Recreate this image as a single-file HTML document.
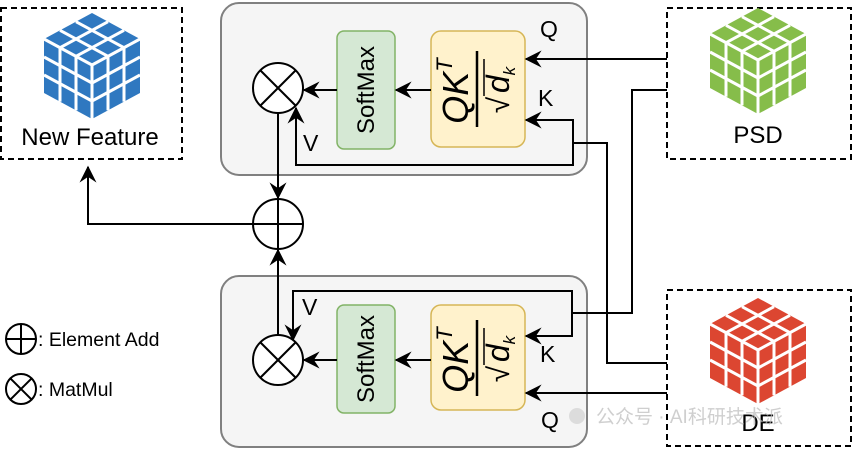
<!DOCTYPE html>
<html><head><meta charset="utf-8"><style>
html,body{margin:0;padding:0;background:#fff;}
svg{display:block;}
text{font-family:"Liberation Sans","Noto Sans CJK SC",sans-serif;}
</style></head><body>
<svg width="855" height="451" viewBox="0 0 855 451" xmlns="http://www.w3.org/2000/svg">
<defs>
<marker id="ar" viewBox="0 0 12 12" refX="11" refY="6" markerWidth="17" markerHeight="17" markerUnits="userSpaceOnUse" orient="auto">
<path d="M0,0 L12,6 L0,12 L4,6 Z" fill="#000"/>
</marker>
<g id="cube">
<polygon points="0,0 48,26 0,52 -48,26"/>
<polygon points="-48,26 0,52 0,106 -48,80" />
<polygon points="0,52 48,26 48,80 0,106"/>
<g stroke="#fff" stroke-width="3" fill="none">
<line x1="-16" y1="8.7" x2="32" y2="34.7"/><line x1="-32" y1="17.3" x2="16" y2="43.3"/>
<line x1="16" y1="8.7" x2="-32" y2="34.7"/><line x1="32" y1="17.3" x2="-16" y2="43.3"/>
<line x1="-48" y1="44" x2="0" y2="70"/><line x1="-48" y1="62" x2="0" y2="88"/>
<line x1="-32" y1="34.7" x2="-32" y2="88.7"/><line x1="-16" y1="43.3" x2="-16" y2="97.3"/>
<line x1="48" y1="44" x2="0" y2="70"/><line x1="48" y1="62" x2="0" y2="88"/>
<line x1="32" y1="34.7" x2="32" y2="88.7"/><line x1="16" y1="43.3" x2="16" y2="97.3"/>
<line x1="0" y1="52" x2="0" y2="106"/>
<line x1="-48" y1="26" x2="0" y2="52"/><line x1="48" y1="26" x2="0" y2="52"/>
</g>
</g>
</defs>

<rect x="1" y="8" width="181" height="151" fill="none" stroke="#000" stroke-width="2" stroke-dasharray="6,4"/>
<rect x="667" y="8" width="184" height="151" fill="none" stroke="#000" stroke-width="2" stroke-dasharray="6,4"/>
<rect x="667" y="290" width="184" height="156" fill="none" stroke="#000" stroke-width="2" stroke-dasharray="6,4"/>

<use href="#cube" transform="translate(92,13)" fill="#2f78c0"/>
<use href="#cube" transform="translate(758,8)" fill="#86bd4a"/>
<use href="#cube" transform="translate(758,298)" fill="#dc4631"/>
<text x="90" y="145" font-size="24" text-anchor="middle">New Feature</text>
<text x="758" y="143" font-size="24" text-anchor="middle">PSD</text>
<text x="758" y="431" font-size="24" text-anchor="middle">DE</text>

<rect x="221" y="3" width="366" height="172" rx="18" fill="#f5f5f5" stroke="#808080" stroke-width="2"/>
<rect x="221" y="276" width="366" height="171" rx="18" fill="#f5f5f5" stroke="#808080" stroke-width="2"/>

<rect x="337" y="31" width="58" height="118" rx="7" fill="#d5e8d4" stroke="#82b366" stroke-width="1.5"/>
<rect x="431" y="31" width="94" height="116" rx="10" fill="#fff2cc" stroke="#d6b656" stroke-width="1.5"/>
<rect x="337" y="305" width="58" height="108" rx="7" fill="#d5e8d4" stroke="#82b366" stroke-width="1.5"/>
<rect x="431" y="305" width="94" height="105" rx="10" fill="#fff2cc" stroke="#d6b656" stroke-width="1.5"/>
<text transform="translate(374,90) rotate(-90)" font-size="24" text-anchor="middle">SoftMax</text>
<text transform="translate(374,359) rotate(-90)" font-size="24" text-anchor="middle">SoftMax</text>

<g transform="translate(477,89) rotate(-90)" font-family="Liberation Serif,serif" font-style="italic">
<line x1="-38" y1="0" x2="38" y2="0" stroke="#000" stroke-width="2.5"/>
<text x="-2" y="-9" font-size="36" text-anchor="middle">QK<tspan font-size="22" dy="-16">T</tspan></text>
<text x="-16" y="32" font-size="30" text-anchor="middle" font-style="normal">√</text>
<text x="9" y="32" font-size="32" text-anchor="middle">d<tspan font-size="17" dy="6">k</tspan></text>
<line x1="-7" y1="7" x2="30" y2="7" stroke="#000" stroke-width="1.5"/>
</g>
<g transform="translate(477,358) rotate(-90)" font-family="Liberation Serif,serif" font-style="italic">
<line x1="-38" y1="0" x2="38" y2="0" stroke="#000" stroke-width="2.5"/>
<text x="-2" y="-9" font-size="36" text-anchor="middle">QK<tspan font-size="22" dy="-16">T</tspan></text>
<text x="-16" y="32" font-size="30" text-anchor="middle" font-style="normal">√</text>
<text x="9" y="32" font-size="32" text-anchor="middle">d<tspan font-size="17" dy="6">k</tspan></text>
<line x1="-7" y1="7" x2="30" y2="7" stroke="#000" stroke-width="1.5"/>
</g>

<g stroke="#000" stroke-width="2" fill="#fff">
<circle cx="278" cy="88" r="25"/>
<circle cx="278" cy="224" r="25"/>
<circle cx="278" cy="360" r="25"/>
<circle cx="21" cy="339" r="15"/>
<circle cx="21" cy="389" r="15"/>
</g>
<g stroke="#000" stroke-width="2" fill="none">
<line x1="260" y1="70" x2="296" y2="106"/><line x1="296" y1="70" x2="260" y2="106"/>
<line x1="260" y1="342" x2="296" y2="378"/><line x1="296" y1="342" x2="260" y2="378"/>
<line x1="253" y1="224" x2="303" y2="224"/><line x1="278" y1="199" x2="278" y2="249"/>
<line x1="6" y1="339" x2="36" y2="339"/><line x1="21" y1="324" x2="21" y2="354"/>
<line x1="10.4" y1="378.4" x2="31.6" y2="399.6"/><line x1="31.6" y1="378.4" x2="10.4" y2="399.6"/>

<line x1="278" y1="113" x2="278" y2="198" marker-end="url(#ar)"/>
<line x1="278" y1="335" x2="278" y2="250" marker-end="url(#ar)"/>
<polyline points="253,224 88,224 88,167" marker-end="url(#ar)"/>
<line x1="337" y1="90" x2="304" y2="90" marker-end="url(#ar)"/>
<line x1="431" y1="90" x2="396" y2="90" marker-end="url(#ar)"/>
<line x1="337" y1="360" x2="304" y2="360" marker-end="url(#ar)"/>
<line x1="431" y1="360" x2="396" y2="360" marker-end="url(#ar)"/>
<line x1="667" y1="59" x2="526" y2="59" marker-end="url(#ar)"/>
<polyline points="667,363 607,363 607,143 573,143"/>
<polyline points="573,143 573,165 296,165 296,108" marker-end="url(#ar)"/>
<polyline points="573,143 573,120 526,120" marker-end="url(#ar)"/>
<polyline points="667,90 632,90 632,313 572,313"/>
<polyline points="572,313 572,291 293,291 293,340" marker-end="url(#ar)"/>
<polyline points="572,313 572,336 526,336" marker-end="url(#ar)"/>
<line x1="667" y1="393" x2="526" y2="393" marker-end="url(#ar)"/>
</g>

<text x="540" y="37" font-size="23">Q</text>
<text x="538" y="106" font-size="23">K</text>
<text x="303" y="151" font-size="23">V</text>
<text x="302" y="315" font-size="23">V</text>
<text x="540" y="362" font-size="23">K</text>
<text x="541" y="428" font-size="23">Q</text>
<text x="38" y="346" font-size="19.5">: Element Add</text>
<text x="38" y="396" font-size="19.5">: MatMul</text>
<text x="596" y="423" font-size="19" fill="#bbb" opacity="0.7">公众号 · AI科研技术派</text>
<circle cx="577" cy="416" r="8" fill="#ccc" opacity="0.6"/>
</svg>
</body></html>
